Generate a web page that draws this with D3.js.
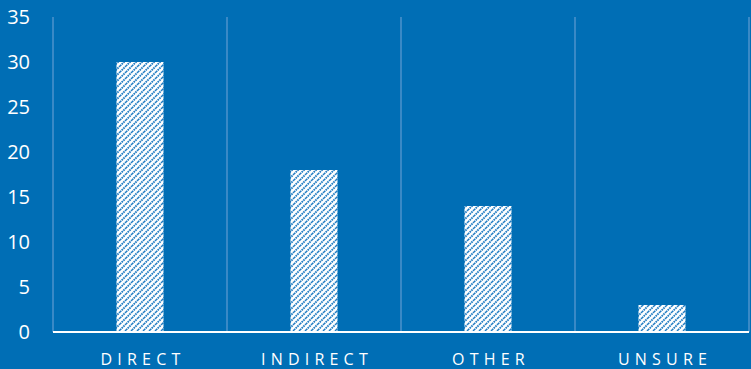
<!DOCTYPE html>
<html>
<head>
<meta charset="utf-8">
<script src="https://cdn.jsdelivr.net/npm/d3@7"></script>
<style>
  html, body { margin: 0; padding: 0; background: #006EB5; }
  svg { display: block; }
</style>
</head>
<body>
<div id="chart"></div>
<script>
const categories = ["DIRECT", "INDIRECT", "OTHER", "UNSURE"];
const values = [30, 18, 14, 3];
const yTicks = [0, 5, 10, 15, 20, 25, 30, 35];

const W = 751, H = 369;
const plot = { left: 53, right: 749, top: 17, bottom: 332 };

const svg = d3.select("#chart").append("svg")
  .attr("width", W)
  .attr("height", H);

svg.append("rect").attr("width", W).attr("height", H).attr("fill", "#006EB5");

// hatch pattern for the bars
const pat = svg.append("defs").append("pattern")
  .attr("id", "hatch")
  .attr("patternUnits", "userSpaceOnUse")
  .attr("width", 6)
  .attr("height", 6);
pat.append("rect").attr("width", 6).attr("height", 6).attr("fill", "#ffffff");
pat.append("path")
  .attr("d", "M-1,1 l2,-2 M0,6 l6,-6 M5,7 l2,-2")
  .attr("stroke", "#1f7cc2")
  .attr("stroke-width", 1.9)
  .attr("stroke-dasharray", "1.6,0.8");

const x = d3.scaleBand()
  .domain(categories)
  .range([plot.left, plot.right])
  .paddingInner(0.73)
  .paddingOuter(0.365);

const y = d3.scaleLinear().domain([0, 35]).range([plot.bottom, plot.top]);

// vertical separators between categories
const seps = d3.range(categories.length + 1)
  .map(i => plot.left + i * (plot.right - plot.left) / categories.length);
svg.selectAll(".sep")
  .data(seps)
  .enter().append("line")
  .attr("x1", d => d).attr("x2", d => d)
  .attr("y1", plot.top).attr("y2", plot.bottom)
  .attr("stroke", "#4c93cc")
  .attr("stroke-width", 1.5);

svg.selectAll(".bar")
  .data(values)
  .enter().append("rect")
  .attr("x", (d, i) => x(categories[i]))
  .attr("y", d => y(d))
  .attr("width", x.bandwidth())
  .attr("height", d => y(0) - y(d))
  .attr("fill", "url(#hatch)");

// baseline
svg.append("line")
  .attr("x1", plot.left).attr("x2", plot.right)
  .attr("y1", y(0)).attr("y2", y(0))
  .attr("stroke", "#ffffff")
  .attr("stroke-width", 2);

// y labels
svg.selectAll(".ylab")
  .data(yTicks)
  .enter().append("text")
  .attr("x", 30)
  .attr("y", d => y(d))
  .attr("dy", "0.35em")
  .attr("text-anchor", "end")
  .attr("fill", "#ffffff")
  .attr("font-family", "'Open Sans', sans-serif")
  .attr("font-size", "20px")
  .text(d => d);

// category labels
svg.selectAll(".xlab")
  .data(categories)
  .enter().append("text")
  .attr("x", d => x(d) + x.bandwidth() / 2 + 3)
  .attr("y", 359)
  .attr("dy", "0.35em")
  .attr("text-anchor", "middle")
  .attr("fill", "#ffffff")
  .attr("font-family", "'Open Sans', sans-serif")
  .attr("font-size", "16px")
  .attr("letter-spacing", "5.2px")
  .text(d => d);
</script>
</body>
</html>
